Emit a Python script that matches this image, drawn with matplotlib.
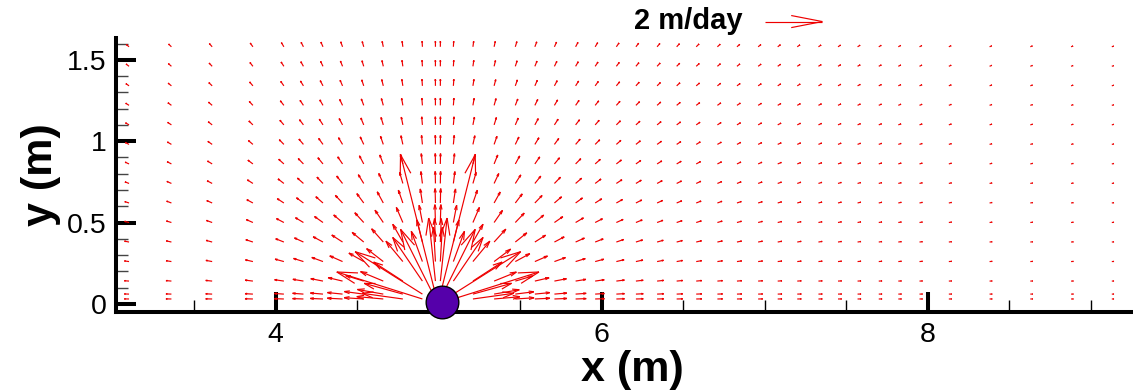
import numpy as np
import matplotlib
matplotlib.use("Agg")
import matplotlib.pyplot as plt
from matplotlib.collections import LineCollection

plt.rcParams['font.family'] = ['Liberation Sans', 'DejaVu Sans']

# mesh columns and rows where velocities are plotted (m)
x_cols = [3.10, 3.36, 3.61, 3.86, 4.05, 4.17, 4.29, 4.41, 4.54, 4.66, 4.78,
          4.90, 4.98, 5.01, 5.09, 5.21, 5.34, 5.47, 5.59, 5.71, 5.84, 5.96,
          6.09, 6.21, 6.34, 6.46, 6.58, 6.71, 6.83, 6.96, 7.08, 7.20, 7.33,
          7.45, 7.57, 7.70, 7.82, 7.95, 8.13, 8.38, 8.63, 8.88, 9.13]
y_rows = [0.03, 0.06, 0.14, 0.26, 0.38, 0.50, 0.62, 0.74, 0.86, 0.98, 1.10,
          1.22, 1.34, 1.46, 1.58]

# injection point
src_x, src_y = 4.995, 0.0
src_strength = 0.31      # m2/day per unit width
core_radius = 0.062      # m
well_x, well_y = 5.02, 0.01

# reference vector
ref_speed = 2.0          # m/day
ref_x, ref_y = 7.0, 1.735
scale = 0.177            # plot length (m) per m/day

X, Y = np.meshgrid(x_cols, y_rows)
dx = X - src_x
dy = Y - src_y
r = np.hypot(dx, dy)
speed = np.where(r > core_radius, src_strength / r,
                 src_strength * r / core_radius ** 2)
U = speed * dx / r
V = speed * dy / r


def arrow_segments(x0, y0, u, v, head_frac, head_max, half_angle):
    segs = []
    for xa, ya, ua, va in zip(np.ravel(x0), np.ravel(y0), np.ravel(u), np.ravel(v)):
        x1, y1 = xa + ua * scale, ya + va * scale
        L = np.hypot(x1 - xa, y1 - ya)
        if L == 0:
            continue
        ang = np.arctan2(y1 - ya, x1 - xa)
        h = min(head_frac * L, head_max)
        segs.append([(xa, ya), (x1, y1)])
        for s in (1, -1):
            a = ang + np.pi - s * half_angle
            segs.append([(x1, y1), (x1 + h * np.cos(a), y1 + h * np.sin(a))])
    return segs


fig = plt.figure(figsize=(11.33, 3.91), dpi=100)
ax = fig.add_axes([116 / 1133, 79 / 391, 1017 / 1133, 274 / 391])
ax.set_xlim(3.02, 9.26)
ax.set_ylim(-0.05, 1.634)

field = LineCollection(arrow_segments(X, Y, U, V, 0.28, 0.13, np.radians(15)),
                       colors='#ee0000', linewidths=0.85)
ax.add_collection(field)

legend_arrow = LineCollection(arrow_segments(ref_x, ref_y, ref_speed, 0.0,
                                             0.55, 0.25, np.radians(11)),
                              colors='#ee0000', linewidths=0.85, clip_on=False)
ax.add_collection(legend_arrow)
fig.text(743 / 1133, 1 - 21 / 391, f"{ref_speed:g} m/day", ha='right', va='center',
         fontsize=21, fontweight='bold')

ax.plot([well_x], [well_y], marker='o', markersize=23.5, markerfacecolor='#5500aa',
        markeredgecolor='black', markeredgewidth=1, clip_on=False, zorder=5)

for side in ('top', 'right'):
    ax.spines[side].set_visible(False)
for side in ('left', 'bottom'):
    ax.spines[side].set_linewidth(2.9)

ax.set_xticks([4, 6, 8])
ax.set_xticks([3.5, 4.5, 5.0, 5.5, 6.5, 7.0, 7.5, 8.5, 9.0], minor=True)
ax.set_yticks([0, 0.5, 1, 1.5])
ax.set_yticks(np.arange(0, 1.65, 0.1), minor=True)
ax.set_xticklabels(['4', '6', '8'])
ax.set_yticklabels(['0', '0.5', '1', '1.5'])
ax.tick_params(which='major', direction='in', length=14.5, width=2.9,
               labelsize=20.5, pad=7)
ax.tick_params(axis='x', which='minor', direction='in', length=9, width=1)
ax.tick_params(axis='y', which='minor', direction='in', length=8.5, width=1,
               color='#444444')

ax.set_xlabel('x (m)', fontsize=31, fontweight='bold')
ax.xaxis.set_label_coords(0.508, -0.14)
ax.set_ylabel('y (m)', fontsize=31, fontweight='bold', labelpad=4)

fig.savefig('out.png', dpi=100)
